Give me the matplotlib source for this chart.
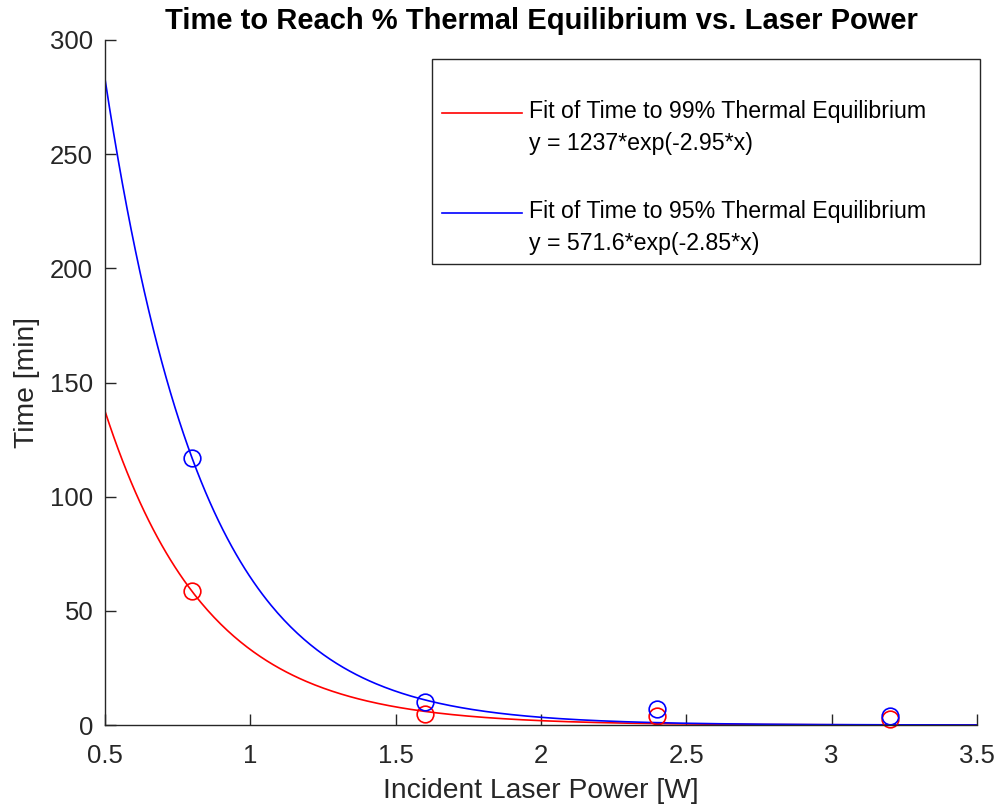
import numpy as np
import matplotlib
matplotlib.use("Agg")
import matplotlib.pyplot as plt

plt.rcParams['font.family'] = ['Liberation Sans', 'DejaVu Sans']

# measured points (incident power [W], time [min])
power = [0.8, 1.6, 2.4, 3.2]
time_99 = [58.5, 5.0, 4.0, 2.5]
time_95 = [117.0, 10.0, 7.0, 4.0]

# exponential fit parameters a*exp(b*x), as printed in the legend
fit_red = (571.6, -2.85)
fit_blue = (1237.0, -2.95)
legend_labels = [
    "\nFit of Time to 99% Thermal Equilibrium       \ny = 1237*exp(-2.95*x)",
    "\nFit of Time to 95% Thermal Equilibrium       \ny = 571.6*exp(-2.85*x)",
]

x_fit = np.linspace(0.5, 3.5, 400)

fig = plt.figure(figsize=(9.97, 8.11), dpi=100)
ax = fig.add_axes([0.1053, 0.106, 0.8746, 0.8447])

grey = '#262626'
l_red, = ax.plot(x_fit, fit_red[0] * np.exp(fit_red[1] * x_fit), color='#ff0000', lw=1.2)
l_blue, = ax.plot(x_fit, fit_blue[0] * np.exp(fit_blue[1] * x_fit), color='#0000ff', lw=1.2)
ax.plot(power, time_99, 'o', mfc='none', mec='#ff0000', ms=12, mew=1.2, clip_on=False)
ax.plot(power, time_95, 'o', mfc='none', mec='#0000ff', ms=12, mew=1.2, clip_on=False)

ax.set_xlim(0.5, 3.5)
ax.set_ylim(0, 300)
ax.set_xticks([0.5, 1, 1.5, 2, 2.5, 3, 3.5])
ax.set_xticklabels(['0.5', '1', '1.5', '2', '2.5', '3', '3.5'])
ax.set_yticks([0, 50, 100, 150, 200, 250, 300])

for side in ['top', 'right']:
    ax.spines[side].set_visible(False)
for side in ['left', 'bottom']:
    ax.spines[side].set_color(grey)
    ax.spines[side].set_linewidth(1.0)
ax.tick_params(direction='in', length=8, width=1.0, color=grey, labelcolor=grey,
               labelsize=18.5)
ax.tick_params(axis='x', pad=14)
ax.tick_params(axis='y', pad=8.5)

ax.set_xlabel('Incident Laser Power [W]', fontsize=20.3, color=grey, labelpad=7)
ax.set_ylabel('Time [min]', fontsize=20.3, color=grey, labelpad=7)
ax.set_title('Time to Reach % Thermal Equilibrium vs. Laser Power',
             fontsize=21, fontweight='bold', pad=8)

leg = ax.legend([l_red, l_blue], legend_labels, loc='upper right',
                bbox_to_anchor=(1.003, 0.972), borderaxespad=0, fontsize=16.7,
                fancybox=False, edgecolor=grey, framealpha=1,
                handlelength=3.45, handletextpad=0.3, borderpad=0.4,
                labelspacing=0.55)
leg.get_frame().set_linewidth(1.0)
for t in leg.get_texts():
    t.set_linespacing(1.5)

fig.savefig('out.png', dpi=100)
